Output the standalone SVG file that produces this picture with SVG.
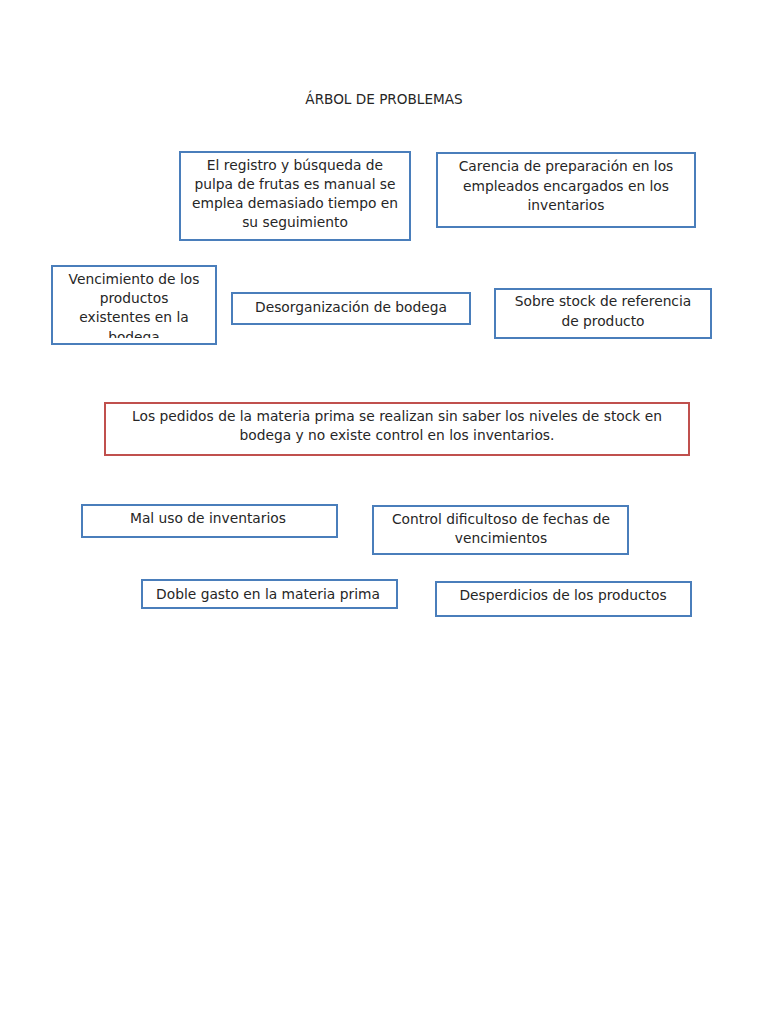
<svg xmlns="http://www.w3.org/2000/svg" width="768" height="1024" viewBox="0 0 768 1024">
<style>
.b{fill:#fff;stroke:#4a7ebb;stroke-width:2}
.r{fill:#fff;stroke:#c0504d;stroke-width:2}
text{font-family:"DejaVu Sans",sans-serif;font-size:13.8px;fill:#262626;text-anchor:middle;dominant-baseline:central}
.t{font-size:13.6px}
</style>
<defs>
<clipPath id="c3"><rect x="52" y="266" width="164" height="72"/></clipPath>
</defs>
<rect width="768" height="1024" fill="#fff"/>
<text class="t" x="384" y="99">ÁRBOL DE PROBLEMAS</text>
<g id="n1"><rect class="b" x="180" y="152" width="230" height="88"/>
<text x="295" y="165">El registro y búsqueda de</text><text x="295" y="184">pulpa de frutas es manual se</text><text x="295" y="203">emplea demasiado tiempo en</text><text x="295" y="222">su seguimiento</text></g>
<g id="n2"><rect class="b" x="437" y="153" width="258" height="74"/>
<text x="566" y="166">Carencia de preparación en los</text><text x="566" y="186">empleados encargados en los</text><text x="566" y="205">inventarios</text></g>
<g id="n3"><rect class="b" x="52" y="266" width="164" height="78"/>
<g clip-path="url(#c3)"><text x="134" y="279">Vencimiento de los</text><text x="134" y="298">productos</text><text x="134" y="317">existentes en la</text><text x="134" y="337">bodega</text></g></g>
<g id="n4"><rect class="b" x="232" y="293" width="238" height="31"/>
<text x="351" y="307">Desorganización de bodega</text></g>
<g id="n5"><rect class="b" x="495" y="289" width="216" height="49"/>
<text x="603" y="301">Sobre stock de referencia</text><text x="603" y="321">de producto</text></g>
<g id="n6"><rect class="r" x="105" y="403" width="584" height="52"/>
<text x="397" y="416">Los pedidos de la materia prima se realizan sin saber los niveles de stock en</text><text x="397" y="435">bodega y no existe control en los inventarios.</text></g>
<g id="n7"><rect class="b" x="82" y="505" width="255" height="32"/>
<text x="208" y="518">Mal uso de inventarios</text></g>
<g id="n8"><rect class="b" x="373" y="506" width="255" height="48"/>
<text x="501" y="519">Control dificultoso de fechas de</text><text x="501" y="538">vencimientos</text></g>
<g id="n9"><rect class="b" x="142" y="580" width="255" height="28"/>
<text x="268" y="594">Doble gasto en la materia prima</text></g>
<g id="n10"><rect class="b" x="436" y="582" width="255" height="34"/>
<text x="563" y="595">Desperdicios de los productos</text></g>
<g id="connectors"></g>
</svg>
